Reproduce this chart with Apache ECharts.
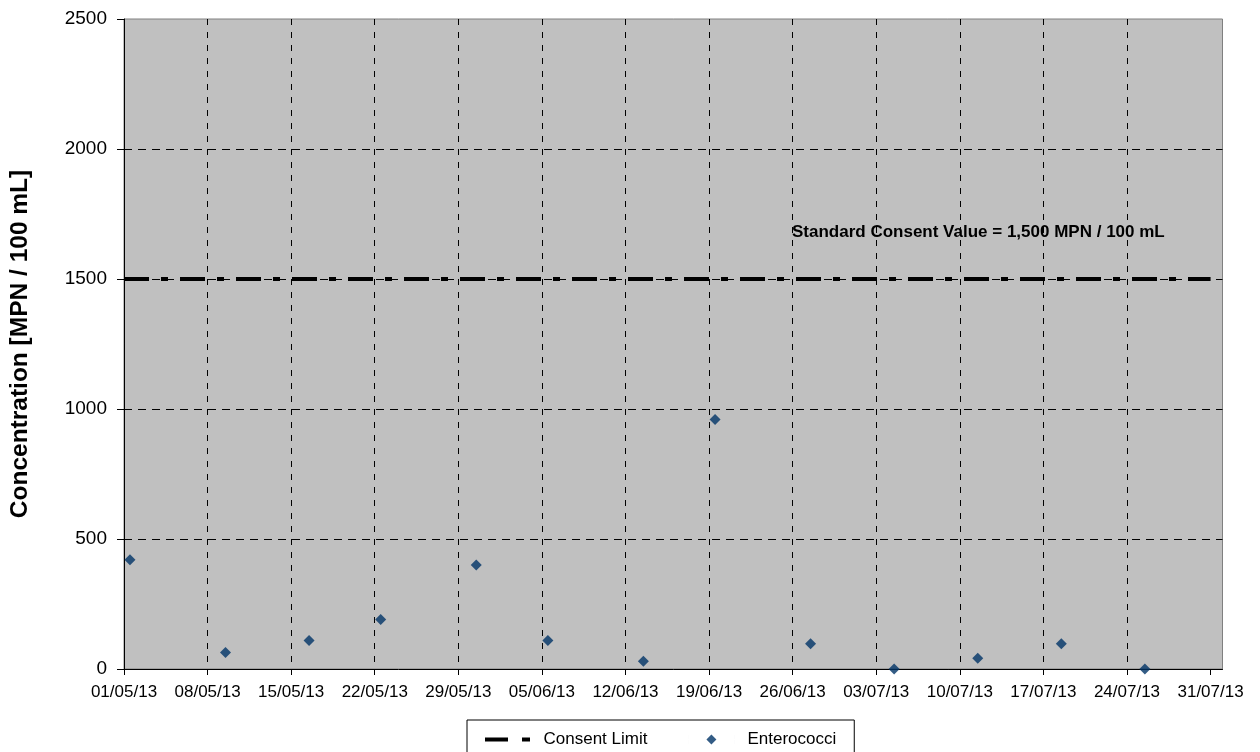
<!DOCTYPE html>
<html>
<head>
<meta charset="utf-8">
<script src="https://cdn.jsdelivr.net/npm/echarts@6/dist/echarts.min.js"></script>
<style>
html,body{margin:0;padding:0;background:#fff;}
#chart{width:1260px;height:752px;}
</style>
</head>
<body>
<div id="chart"></div>
<script>
// ---- data ----
const sampleDates = ['2013-05-01T12:00', '2013-05-09T12:00', '2013-05-16T12:00', '2013-05-22T12:00', '2013-05-30T12:00',
  '2013-06-05T12:00', '2013-06-13T12:00', '2013-06-19T12:00', '2013-06-27T12:00', '2013-07-04T12:00',
  '2013-07-11T12:00', '2013-07-18T12:00', '2013-07-25T12:00'];
const enterococci = [420, 63, 110, 190, 400, 110, 30, 960, 97, 0, 41, 97, 0];
const consentDates = ['2013-05-01T00:00', '2013-07-31T00:00'];
const consentValues = [1500, 1500];
const xTickDates = ['2013-05-01', '2013-05-08', '2013-05-15', '2013-05-22', '2013-05-29', '2013-06-05', '2013-06-12',
  '2013-06-19', '2013-06-26', '2013-07-03', '2013-07-10', '2013-07-17', '2013-07-24', '2013-07-31'];
const xRange = ['2013-05-01', '2013-08-01'];
const yTicks = [0, 500, 1000, 1500, 2000, 2500];
const annotationText = 'Standard Consent Value = 1,500 MPN / 100 mL';
const yTitle = 'Concentration [MPN / 100 mL]';

// ---- helpers ----
const ORIGIN = Date.UTC(2013, 4, 1);
const DAY = 86400000;
function toDay(s) {
  const iso = s.length === 10 ? s + 'T00:00' : s;
  return (Date.parse(iso + ':00Z') - ORIGIN) / DAY;
}
function fmtDay(v) {
  const d = new Date(ORIGIN + v * DAY);
  const p = n => (n < 10 ? '0' : '') + n;
  return p(d.getUTCDate()) + '/' + p(d.getUTCMonth() + 1) + '/' + String(d.getUTCFullYear()).slice(2);
}
const FONT = 'Liberation Sans, Arial, sans-serif';
const xTicks = xTickDates.map(toDay);

const chart = echarts.init(document.getElementById('chart'), null, {renderer: 'canvas'});
chart.setOption({
  animation: false,
  textStyle: {fontFamily: FONT},
  grid: {left: 124, right: 37.5, top: 19, bottom: 83, show: true, backgroundColor: '#C0C0C0', borderColor: '#808080', borderWidth: 1},
  xAxis: {
    type: 'value', min: toDay(xRange[0]), max: toDay(xRange[1]), interval: 7,
    axisLine: {show: true, lineStyle: {color: '#000', width: 1}},
    axisTick: {show: true, inside: false, length: 6, customValues: xTicks, lineStyle: {color: '#000'}},
    axisLabel: {customValues: xTicks, formatter: v => fmtDay(v), fontSize: 17, color: '#000', fontFamily: FONT, margin: 15},
    splitLine: {show: true, showMaxLine: false, lineStyle: {color: '#000', type: [6, 7], width: 1}}
  },
  yAxis: {
    type: 'value', min: yTicks[0], max: yTicks[yTicks.length - 1], interval: 500,
    name: yTitle, nameLocation: 'middle', nameGap: 91, nameRotate: 90,
    nameTextStyle: {fontSize: 24.5, fontWeight: 'bold', color: '#000', fontFamily: FONT},
    axisLine: {show: true, lineStyle: {color: '#000', width: 1}},
    axisTick: {show: true, inside: false, length: 7, lineStyle: {color: '#000'}},
    axisLabel: {formatter: v => String(v), fontSize: 19, color: '#000', fontFamily: FONT, margin: 17},
    splitLine: {show: true, showMaxLine: false, showMinLine: false, lineStyle: {color: '#000', type: [8, 6], width: 1}}
  },
  legend: {
    left: 467, top: 720, padding: [11, 18, 14, 18], borderColor: '#000', borderWidth: 1, backgroundColor: '#fff',
    itemGap: 41, itemWidth: 46, itemHeight: 10,
    textStyle: {fontSize: 17, color: '#000', fontFamily: FONT, padding: [0, 0, 0, 8]},
    data: [
      {name: 'Consent Limit', icon: 'path://M0,0H0.01V10H0Z M0,3H23V7H0Z M37,3H45V7H37Z M44.99,0H45V10H44.99Z'},
      {name: 'Enterococci', icon: 'path://M0,0H0.01V10H0Z M18,5L23,0L28,5L23,10Z M45.99,0H46V10H45.99Z'}
    ]
  },
  graphic: [{
    type: 'text', left: 792, top: 224,
    style: {text: annotationText, font: 'bold 17px ' + FONT, fill: '#000'}
  }],
  series: [
    {
      name: 'Consent Limit', type: 'line', symbol: 'none',
      data: consentDates.map((d, i) => [toDay(d), consentValues[i]]),
      lineStyle: {color: '#000', width: 4, type: [25, 12, 7, 12]},
      itemStyle: {color: '#000'}, z: 3
    },
    {
      name: 'Enterococci', type: 'scatter', symbol: 'diamond', symbolSize: 11,
      data: sampleDates.map((d, i) => [toDay(d), enterococci[i]]),
      itemStyle: {color: '#003366'}, z: 4
    }
  ]
});
</script>
</body>
</html>
